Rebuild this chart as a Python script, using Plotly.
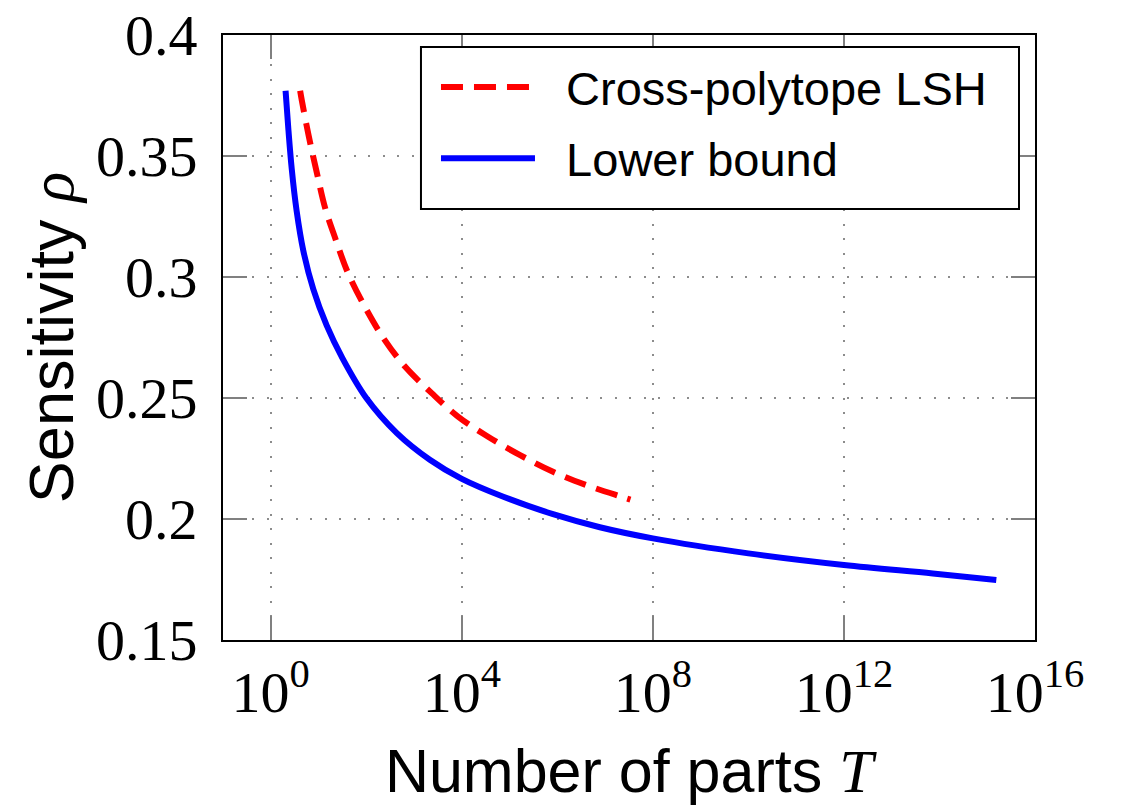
import plotly.graph_objects as go

# ---- data (log10 of T, sensitivity rho) ----
lower_log10_T = [0.31, 0.37, 0.44, 0.54, 0.68, 0.89, 1.17, 1.5, 2.0, 2.64, 3.33,
                 4.0, 4.87, 5.91, 6.89, 8.0, 10.0, 12.0, 13.86, 15.19]
lower_rho = [0.377, 0.3607, 0.3445, 0.3275, 0.311, 0.295, 0.28, 0.2665, 0.25, 0.2355,
             0.2245, 0.2166, 0.2092, 0.202, 0.1966, 0.192, 0.1858, 0.181, 0.1775, 0.1748]

cp_log10_T = [0.615, 0.65, 0.79, 0.96, 1.14, 1.35, 1.62, 1.97, 2.36, 2.81, 3.37, 3.92,
              4.55, 5.22, 5.91, 6.61, 7.34, 7.53]
cp_rho = [0.377, 0.373, 0.3587, 0.3435, 0.3284, 0.316, 0.3015, 0.2877, 0.2747, 0.263,
          0.252, 0.2423, 0.234, 0.2264, 0.2195, 0.214, 0.2092, 0.208]

x_tick_exponents = [0, 4, 8, 12, 16]
y_tick_values = [0.15, 0.2, 0.25, 0.3, 0.35, 0.4]
y_tick_labels = ["0.15", "0.2", "0.25", "0.3", "0.35", "0.4"]

lower_T = [10 ** e for e in lower_log10_T]
cp_T = [10 ** e for e in cp_log10_T]

SANS = "Liberation Sans"
SERIF = "Liberation Serif"
NBSP = "\u00a0"

fig = go.Figure()
fig.add_trace(go.Scatter(
    x=cp_T, y=cp_rho, mode="lines", name=NBSP * 2 + "Cross-polytope LSH",
    legendgroup="cp",
    line=dict(color="#ff0000", width=6, dash="22px,11px", shape="spline"),
))
fig.add_trace(go.Scatter(
    x=lower_T, y=lower_rho, mode="lines", name=NBSP * 2 + "Lower bound",
    legendgroup="lb",
    line=dict(color="#0000ff", width=6, shape="spline"),
))

axis_common = dict(
    showline=True, linecolor="black", linewidth=2, mirror="allticks",
    ticks="inside", ticklen=24, tickwidth=1.5, tickcolor="#808080",
    showgrid=True, gridcolor="#8c8c8c", gridwidth=2, griddash="2px,12.5px",
    zeroline=False, automargin=False,
    tickfont=dict(family=SERIF, size=58, color="black"),
)

fig.update_xaxes(
    type="log", range=[-1, 16],
    tickvals=[10 ** e for e in x_tick_exponents],
    ticktext=[f"10<sup>{e}</sup>" for e in x_tick_exponents],
    title=dict(text=f"Number of parts <span style='font-family:{SERIF}'><i>T</i></span>",
               font=dict(family=SANS, size=61, color="black"), standoff=34),
    **axis_common,
)
fig.update_yaxes(
    range=[0.15, 0.4],
    tickvals=y_tick_values, ticktext=y_tick_labels,
    ticklabelstandoff=12,
    title=dict(text=f"Sensitivity <span style='font-family:{SERIF}'><i>ρ</i></span>",
               font=dict(family=SANS, size=63, color="black"), standoff=2),
    **axis_common,
)

# legend frame (box drawn behind the legend entries)
fig.add_shape(type="rect", xref="paper", yref="paper",
              x0=0.2438, x1=0.9803, y0=0.7124, y1=0.9802,
              line=dict(color="black", width=2), fillcolor="white", layer="above")

fig.update_layout(
    width=1123, height=805,
    margin=dict(l=223, r=88, t=35, b=165),
    paper_bgcolor="white", plot_bgcolor="white",
    showlegend=True,
    legend=dict(
        x=0.2623, y=0.9752, xanchor="left", yanchor="top",
        bgcolor="rgba(0,0,0,0)", borderwidth=0,
        font=dict(family=SANS, size=47, color="black"),
        itemwidth=94, traceorder="grouped", tracegroupgap=7,
    ),
)

fig.write_html("out.html")
